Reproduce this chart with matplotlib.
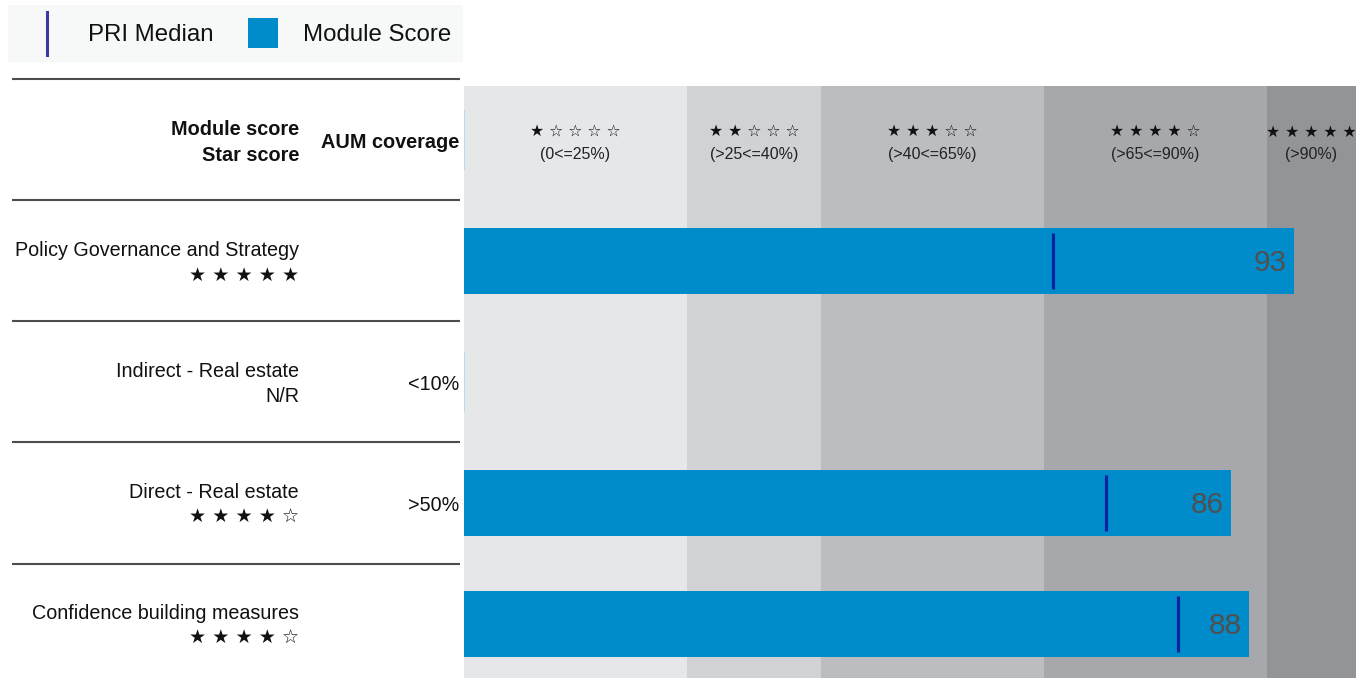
import matplotlib
matplotlib.use("Agg")
import matplotlib.pyplot as plt
from matplotlib.patches import Rectangle
from matplotlib.lines import Line2D

plt.rcParams['font.family'] = ['Liberation Sans', 'DejaVu Sans']

# ---- data ----
categories = ["Policy Governance and Strategy", "Indirect - Real estate",
              "Direct - Real estate", "Confidence building measures"]
scores = [93, None, 86, 88]
medians = [66, None, 72, 80]
star_scores = [5, None, 4, 4]
aum_coverage = ["", "<10%", ">50%", ""]
band_edges = [0, 25, 40, 65, 90, 100]
band_labels = ["(0<=25%)", "(>25<=40%)", "(>40<=65%)", "(>65<=90%)", "(>90%)"]
band_stars = [1, 2, 3, 4, 5]

# ---- style ----
W, H = 1363, 680
band_colors = ['#e6e7e9', '#d1d2d4', '#bcbdbf', '#a7a8ab', '#939497']
bar_color = '#008ccb'
median_color = '#0b239c'
legend_median_color = '#3a3aa6'
sep_color = '#4d4d4d'
value_color = '#505050'
text_color = '#111111'

fig = plt.figure(figsize=(W / 100, H / 100), dpi=100)
ax_left_px, ax_right_px, ax_top_px, ax_bot_px = 464, 1356, 86, 678
ax = fig.add_axes([ax_left_px / W, (H - ax_bot_px) / H,
                   (ax_right_px - ax_left_px) / W, (ax_bot_px - ax_top_px) / H])
row_px = 121.0
header_px = 140.0
ax.set_xlim(0, 100)
ax.set_ylim((ax_bot_px - header_px) / row_px, (ax_top_px - header_px) / row_px)
ax.axis('off')

dy = 2.5 / row_px  # small text baseline nudge


def xa(px):
    return (px - ax_left_px) / (ax_right_px - ax_left_px)


def stars_text(n, sep=" "):
    return sep.join(["\u2605"] * n + ["\u2606"] * (5 - n))


# bands
for i in range(5):
    ax.axvspan(band_edges[i], band_edges[i + 1], color=band_colors[i], lw=0, zorder=0)
    cx = (band_edges[i] + band_edges[i + 1]) / 2
    ax.text(cx, -10 / row_px + dy, stars_text(band_stars[i]), ha='center', va='center',
            fontsize=11.3, family=['DejaVu Sans'], color=text_color, zorder=3)
    ax.text(cx, 12 / row_px + dy, band_labels[i], ha='center', va='center',
            fontsize=11.5, color='#222222', zorder=3)

# faint sliver at zero in the header row
ax.vlines(0, -30 / row_px, 30 / row_px, color='#a9d9ef', lw=1.2, zorder=2)

rows = list(range(1, len(categories) + 1))
bar_h = 66 / row_px
for r, s, m in zip(rows, scores, medians):
    if s is None:
        ax.vlines(0, r - 30 / row_px, r + 30 / row_px, color='#a9d9ef', lw=1.2, zorder=2)
        continue
    ax.barh(r, s, height=bar_h, color=bar_color, zorder=2, lw=0)
    ax.vlines(m, r - 28 / row_px, r + 28 / row_px, color=median_color, lw=2.3, zorder=3)
    ax.text(s - 0.8, r + dy, f"{s}", ha='right', va='center', fontsize=21.5,
            color=value_color, zorder=4)

tr = ax.get_yaxis_transform()
# separators
for y in [-0.5] + [r - 0.5 for r in rows]:
    ax.plot([xa(12), xa(460)], [y, y], transform=tr, clip_on=False,
            color=sep_color, lw=1.5, solid_capstyle='butt')

# header
ax.text(xa(299), -13 / row_px + dy, "Module score", transform=tr, ha='right', va='center',
        fontsize=14.3, fontweight='bold', color=text_color)
ax.text(xa(299), 13 / row_px + dy, "Star score", transform=tr, ha='right', va='center',
        fontsize=14.3, fontweight='bold', color=text_color)
ax.text(xa(459), dy, "AUM coverage", transform=tr, ha='right', va='center',
        fontsize=14.3, fontweight='bold', color=text_color)

# row labels
for r, cat, st, aum in zip(rows, categories, star_scores, aum_coverage):
    ax.text(xa(299), r - 13 / row_px + dy, cat, transform=tr, ha='right', va='center',
            fontsize=14.25, color=text_color)
    if st is None:
        ax.text(xa(299), r + 12 / row_px + dy, "N/R", transform=tr, ha='right', va='center',
                fontsize=14.25, color=text_color)
    else:
        ax.text(xa(299), r + 12 / row_px + dy, stars_text(st), transform=tr, ha='right',
                va='center', fontsize=13.75, family=['DejaVu Sans'], color=text_color)
    if aum:
        ax.text(xa(459), r + dy, aum, transform=tr, ha='right', va='center',
                fontsize=14.25, color=text_color)


# legend (figure pixel coords)
def fx(px):
    return px / W


def fy(py):
    return 1 - py / H


fig.patches.append(Rectangle((fx(8), fy(62)), fx(463) - fx(8), fy(5) - fy(62),
                             transform=fig.transFigure, facecolor='#f7f9f9', lw=0, zorder=0))
fig.lines.append(Line2D([fx(47), fx(47)], [fy(12), fy(55)], transform=fig.transFigure,
                        color=legend_median_color, lw=2.2))
fig.text(fx(88), fy(35), "PRI Median", ha='left', va='center', fontsize=17.3, color=text_color)
fig.patches.append(Rectangle((fx(248), fy(48)), fx(278) - fx(248), fy(18) - fy(48),
                             transform=fig.transFigure, facecolor=bar_color, lw=0))
fig.text(fx(303), fy(35), "Module Score", ha='left', va='center', fontsize=17.3, color=text_color)

fig.savefig("out.png", dpi=100, facecolor='white')
